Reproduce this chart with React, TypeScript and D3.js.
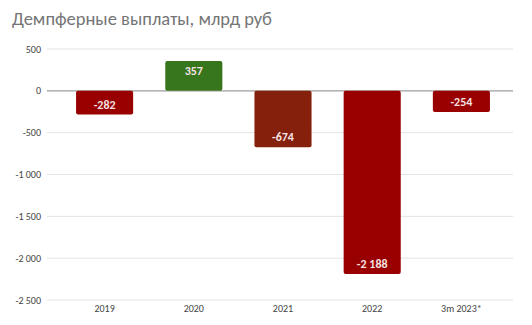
import React from 'react';
import * as d3 from 'd3';

const categories = ['2019', '2020', '2021', '2022', '3m 2023*'];
const values = [-282, 357, -674, -2188, -254];
const barColors = ['#990000', '#38761d', '#85200c', '#990000', '#990000'];
const yTicks = [500, 0, -500, -1000, -1500, -2000, -2500];

const fmt = (v: number) => {
  const s = d3.format(',')(Math.abs(v)).replace(/,/g, ' ');
  return (v < 0 ? '-' : '') + s;
};

const App = () => {
  const width = 532;
  const height = 325;
  const margin = { top: 49, left: 47, right: 19, bottom: 25 };

  const y = d3.scaleLinear()
    .domain([-2500, 500])
    .range([height - margin.bottom, margin.top]);

  const x = d3.scaleBand()
    .domain(categories)
    .range([60, 506])
    .paddingInner(0.36)
    .paddingOuter(0.18);

  const font = 'Calibri, Carlito, "Open Sans", Arial, sans-serif';

  return (
    <svg width={width} height={height} style={{ position: 'absolute', left: 0, top: 0, background: '#fff' }}>
      <text x={12} y={25} fontSize={18.5} fill='#757575' fontFamily={font}>
        Демпферные выплаты, млрд руб
      </text>
      {yTicks.map(t => (
        <g key={`tick-${t}`}>
          <line
            x1={margin.left}
            x2={width - margin.right}
            y1={y(t)}
            y2={y(t)}
            stroke={t === 0 ? '#9e9e9e' : '#e3e3e3'}
            strokeWidth={t === 0 ? 1.2 : 1}
          />
          <text x={41} y={y(t)} dy='0.35em' textAnchor='end' fontSize={10} fill='#444' fontFamily={font}>
            {fmt(t)}
          </text>
        </g>
      ))}
      {categories.map((c, i) => {
        const v = values[i];
        const y0 = y(0);
        const y1 = y(v);
        const top = Math.min(y0, y1);
        const h = Math.abs(y1 - y0);
        const labelY = v < 0 ? y1 - 10 : y1 + 10;
        return (
          <g key={`bar-${c}`}>
            <rect
              x={x(c)}
              y={top}
              width={x.bandwidth()}
              height={h}
              rx={2}
              fill={barColors[i]}
            />
            <text
              x={(x(c) || 0) + x.bandwidth() / 2}
              y={labelY}
              dy='0.35em'
              textAnchor='middle'
              fontSize={12}
              fontWeight='bold'
              fill='#f6e3e3'
              fontFamily={font}
            >
              {fmt(v)}
            </text>
            <text
              x={(x(c) || 0) + x.bandwidth() / 2}
              y={312}
              textAnchor='middle'
              fontSize={10}
              fill='#444'
              fontFamily={font}
            >
              {c}
            </text>
          </g>
        );
      })}
    </svg>
  );
};

export default App;
